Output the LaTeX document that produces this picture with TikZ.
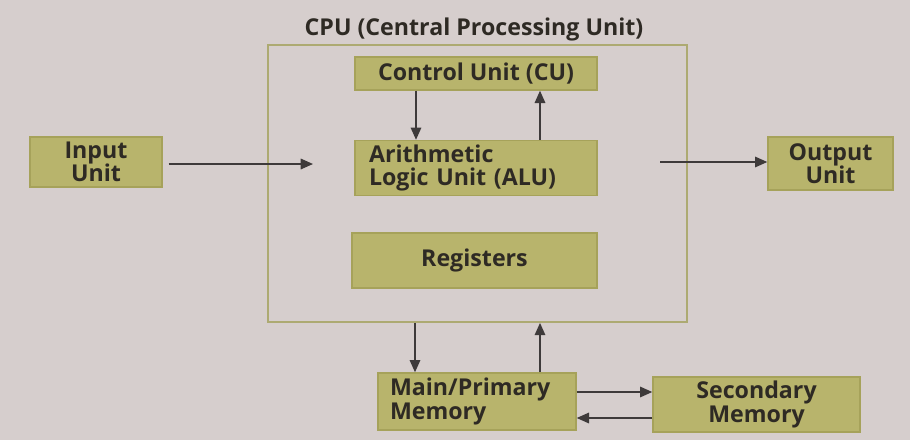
\documentclass[tikz,border=0pt]{standalone}
\usepackage{fontspec}
\setmainfont{Open Sans}
\usetikzlibrary{arrows.meta}
\definecolor{bgc}{HTML}{D6CECD}
\definecolor{boxfill}{HTML}{B8B46C}
\definecolor{boxline}{HTML}{A6A25A}
\definecolor{cpuline}{HTML}{ADAA72}
\definecolor{txt}{HTML}{2E2A24}
\definecolor{arr}{HTML}{3E3A3A}
\tikzset{
  lbl/.style={font=\bfseries\fontsize{13.2}{13.4}\selectfont, text=txt},
  unitbox/.style={lbl, draw=boxline, fill=boxfill, line width=0.8pt, inner sep=0pt, align=center},
  link/.style={draw=arr, line width=0.9pt, -{Triangle[length=7pt,width=6pt]}}
}
\begin{document}
\begin{tikzpicture}[x=0.02cm,y=-0.02cm]
\fill[bgc] (0,0) rectangle (910,440);
\useasboundingbox (0,0) rectangle (910,440);
% CPU container
\node[draw=cpuline, line width=1pt, minimum width=419*0.02cm, minimum height=277*0.02cm, inner sep=0pt] (cpu) at (477.5,183.5) {};
\node[lbl] (title) at (474,29) {CPU (Central Processing Unit)};
% units
\node[unitbox, minimum width=242*0.02cm, minimum height=33*0.02cm] (cu) at (476,73.5) {Control Unit (CU)};
\node[unitbox, minimum width=242*0.02cm, minimum height=55*0.02cm, align=left, text width=214*0.02cm] (alu) at (476,168) {Arithmetic\\Logic Unit (ALU)};
\node[unitbox, minimum width=245*0.02cm, minimum height=55*0.02cm] (reg) at (474.5,260.5) {Registers};
\node[unitbox, minimum width=132*0.02cm, minimum height=50*0.02cm] (in) at (96,162) {Input\\Unit};
\node[unitbox, minimum width=125*0.02cm, minimum height=53*0.02cm] (out) at (830.5,163.5) {Output\\Unit};
\node[unitbox, minimum width=198*0.02cm, minimum height=57*0.02cm, align=left, text width=174*0.02cm] (mm) at (477,401.5) {Main/Primary\\Memory};
\node[unitbox, minimum width=207*0.02cm, minimum height=55*0.02cm] (sm) at (756.5,404.5) {Secondary\\Memory};
% helper coordinates
\coordinate (inEnd) at (313,164);
\coordinate (outStart) at (660,162);
% arrows
\draw[link] (in.east |- inEnd) ++(6,0) -- (inEnd);
\draw[link] (outStart) -- (out.west |- outStart) ;
\draw[link] (cu.south -| 416,0) -- (alu.north -| 416,0);
\draw[link] (alu.north -| 540,0) -- (cu.south -| 540,0);
\draw[link] (cpu.south -| 415,0) -- (mm.north -| 415,0);
\draw[link] (mm.north -| 540,0) -- (cpu.south -| 540,0);
\draw[link] (mm.east |- 0,392) -- (sm.west |- 0,392);
\draw[link] (sm.west |- 0,418) -- (mm.east |- 0,418);
\end{tikzpicture}
\end{document}
